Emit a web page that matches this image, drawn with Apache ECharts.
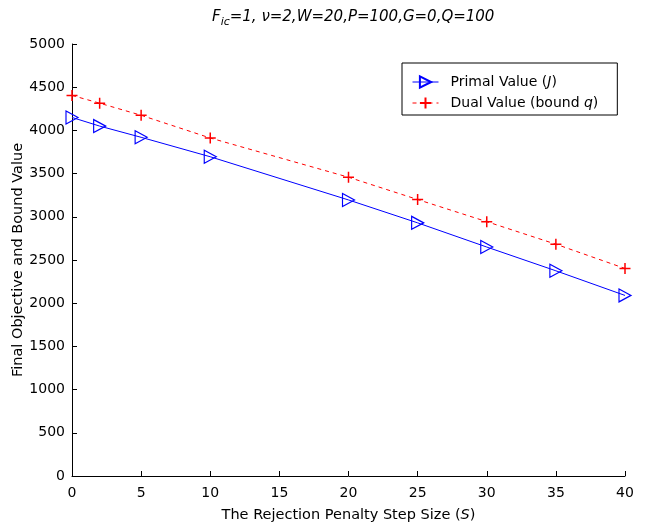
<!DOCTYPE html>
<html><head><meta charset="utf-8">
<script src="https://cdn.jsdelivr.net/npm/echarts@6/dist/echarts.min.js"></script>
<style>html,body{margin:0;padding:0;background:#fff}#c{width:656px;height:527px}</style>
</head><body><div id="c"></div>
<script>
const stepSizes = [0, 2, 5, 10, 20, 25, 30, 35, 40];
const primalValues = [4150, 4050, 3920, 3695, 3195, 2930, 2650, 2375, 2090];
const dualValues = [4405, 4315, 4175, 3912, 3458, 3200, 2944, 2683, 2402];
const xTicks = [0, 5, 10, 15, 20, 25, 30, 35, 40];
const yTicks = [0, 500, 1000, 1500, 2000, 2500, 3000, 3500, 4000, 4500, 5000];

const FONT = '"DejaVu Sans", "Liberation Sans", Arial, sans-serif';
const chart = echarts.init(document.getElementById('c'));
chart.setOption({
  backgroundColor: '#fff',
  animation: false,
  title: {
    text: '{i|F}{sub|ic}{i|=1, ν=2,W=20,P=100,G=0,Q=100}',
    left: 207, top: 2,
    textStyle: {
      fontWeight: 'normal',
      rich: {
        i: {fontFamily: FONT, fontSize: 15, fontStyle: 'italic', fontWeight: 'normal', color: '#000'},
        sub: {fontFamily: FONT, fontSize: 11, fontStyle: 'italic', fontWeight: 'normal', color: '#000', padding: [10, 0, 0, 0]}
      }
    }
  },
  grid: {left: 72, right: 31, top: 44, bottom: 51, containLabel: false, outerBoundsMode: 'none'},
  legend: {
    orient: 'vertical',
    left: 402, top: 63,
    borderColor: '#000', borderWidth: 1,
    padding: [12, 19, 5, 10],
    itemWidth: 26, itemHeight: 14, itemGap: 7,
    data: ['primal', 'dual'],
    lineStyle: {width: 1},
    formatter: function (n) {
      return n === 'primal' ? '{s|}{t|Primal Value (}{it|J}{t|)}' : '{s|}{t|Dual Value (bound }{it|q}{t|)}';
    },
    textStyle: {
      rich: {
        s: {width: 7},
        t: {fontFamily: FONT, fontSize: 14, color: '#000'},
        it: {fontFamily: FONT, fontSize: 14, color: '#000', fontStyle: 'italic'}
      }
    }
  },
  xAxis: {
    type: 'value', min: 0, max: 40, interval: 5,
    name: '{t|The Rejection Penalty Step Size (}{it|S}{t|)}',
    nameLocation: 'middle', nameGap: 32, nameMoveOverlap: false,
    nameTextStyle: {
      rich: {
        t: {fontFamily: FONT, fontSize: 14.5, color: '#000'},
        it: {fontFamily: FONT, fontSize: 14.5, color: '#000', fontStyle: 'italic'}
      }
    },
    axisLine: {lineStyle: {color: '#000', width: 1}},
    axisTick: {inside: true, length: 5, lineStyle: {color: '#000'}},
    axisLabel: {fontFamily: FONT, fontSize: 14, color: '#000', margin: 10},
    splitLine: {show: false}
  },
  yAxis: {
    type: 'value', min: 0, max: 5000, interval: 500,
    name: 'Final Objective and Bound Value',
    nameLocation: 'middle', nameGap: 46, nameMoveOverlap: false,
    nameTextStyle: {fontFamily: FONT, fontSize: 14.5, color: '#000'},
    axisLine: {show: true, lineStyle: {color: '#000', width: 1}},
    axisTick: {show: true, inside: true, length: 5, lineStyle: {color: '#000'}},
    axisLabel: {fontFamily: FONT, fontSize: 14, color: '#000', margin: 7, formatter: v => String(v)},
    splitLine: {show: false}
  },
  series: [
    {
      name: 'primal', type: 'line',
      data: stepSizes.map((s, i) => [s, primalValues[i]]),
      lineStyle: {color: '#0000ff', width: 1},
      symbol: 'triangle', symbolRotate: -90, symbolSize: [13, 12],
      itemStyle: {color: 'rgba(255,255,255,0)', borderColor: '#0000ff', borderWidth: 1.2},
      z: 3
    },
    {
      name: 'dual', type: 'line',
      data: stepSizes.map((s, i) => [s, dualValues[i]]),
      lineStyle: {color: '#ff0000', width: 1, type: [4, 4]},
      symbol: 'path://M0,5L10,5M5,0L5,10', symbolSize: 11,
      itemStyle: {color: 'rgba(255,255,255,0)', borderColor: '#ff0000', borderWidth: 1.5},
      z: 2
    }
  ]
});
</script></body></html>
